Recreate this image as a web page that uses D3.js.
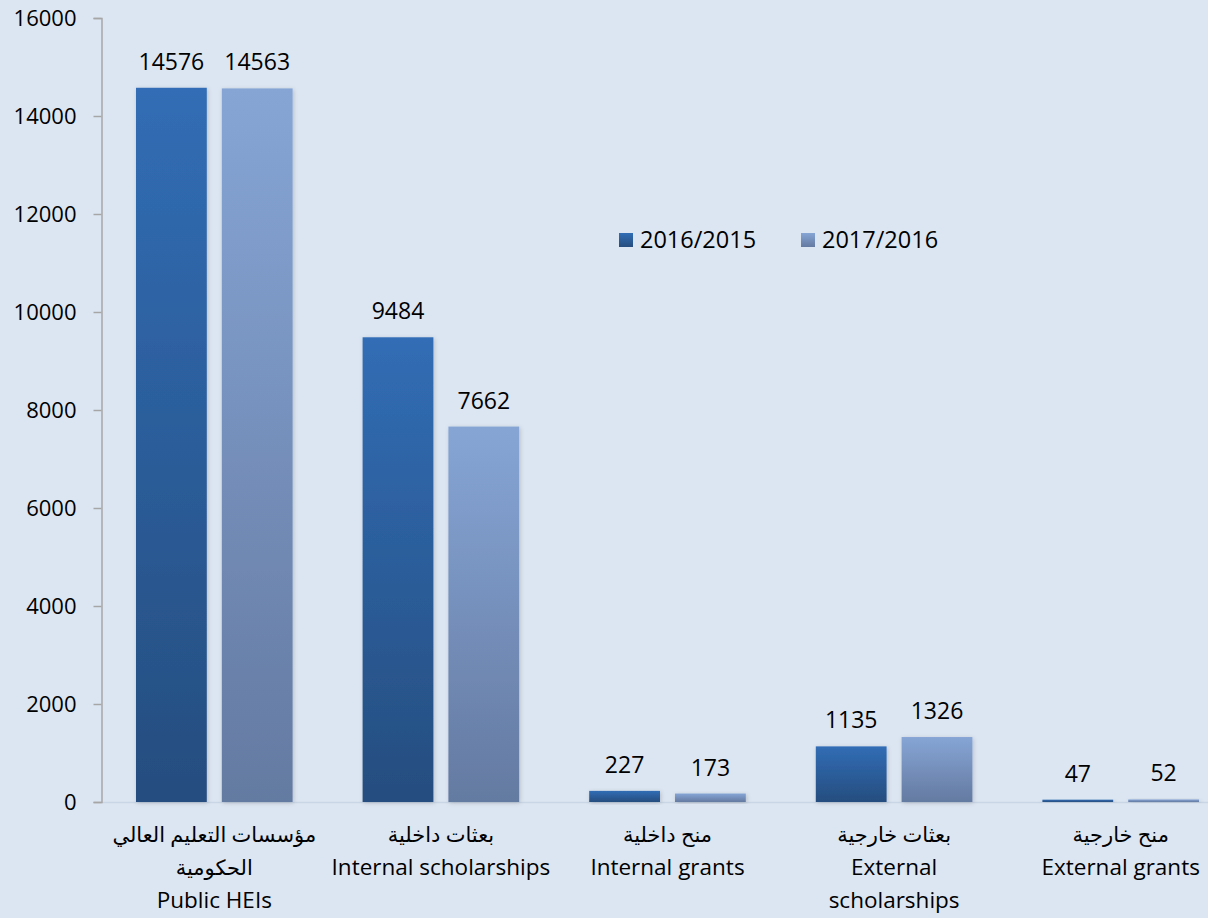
<!DOCTYPE html>
<html>
<head>
<meta charset="utf-8">
<script src="https://cdn.jsdelivr.net/npm/d3@7"></script>
<style>
  body { margin: 0; background: #dce6f2; }
  svg { display: block; }
  text { font-family: "Open Sans", "Liberation Sans", sans-serif; fill: #000; }
  .ar { font-family: "Liberation Serif", "DejaVu Serif", "DejaVu Sans", serif; }
</style>
</head>
<body>
<script>
// data
var categories = ["Public HEIs", "Internal scholarships", "Internal grants", "External scholarships", "External grants"];
var labelLines = [
  ["مؤسسات التعليم العالي", "الحكومية", "Public HEIs"],
  ["بعثات داخلية", "Internal scholarships"],
  ["منح داخلية", "Internal grants"],
  ["بعثات خارجية", "External", "scholarships"],
  ["منح خارجية", "External grants"]
];
var seriesNames = ["2016/2015", "2017/2016"];
var values2016 = [14576, 9484, 227, 1135, 47];
var values2017 = [14563, 7662, 173, 1326, 52];
var yTicks = [0, 2000, 4000, 6000, 8000, 10000, 12000, 14000, 16000];

var width = 1208, height = 918;
var svg = d3.select("body").append("svg")
    .attr("width", width)
    .attr("height", height);

var defs = svg.append("defs");
var grads = [["g0", "#316db5", "#264d7f"], ["g1", "#86a5d5", "#647aa1"]];
grads.forEach(function (g) {
  var lg = defs.append("linearGradient").attr("id", g[0])
      .attr("x1", 0).attr("y1", 0).attr("x2", 0).attr("y2", 1);
  lg.append("stop").attr("offset", "0%").attr("stop-color", g[1]);
  lg.append("stop").attr("offset", "100%").attr("stop-color", g[2]);
});
var f = defs.append("filter").attr("id", "shadow")
    .attr("x", "-20%").attr("y", "-20%").attr("width", "140%").attr("height", "140%");
f.append("feDropShadow").attr("dx", 1).attr("dy", 1).attr("stdDeviation", 2)
    .attr("flood-color", "#000").attr("flood-opacity", 0.18);

var y = d3.scaleLinear().domain([0, 16000]).range([802, 18]);
var x0 = d3.scaleBand().domain(categories).range([101, 1234]).paddingInner(0).paddingOuter(0);
var x1 = d3.scaleBand().domain([0, 1]).range([35, x0.bandwidth() - 35]).paddingInner(0.175);

// baseline
svg.append("line")
    .attr("x1", 101).attr("x2", width)
    .attr("y1", y(0) + 0.5).attr("y2", y(0) + 0.5)
    .attr("stroke", "#c9d6e6").attr("stroke-width", 1.5);

// y axis
var yAxis = svg.append("g")
    .attr("transform", "translate(101.5,0)")
    .call(d3.axisLeft(y).tickValues(yTicks).tickSize(8).tickPadding(17).tickFormat(d3.format("d")));
yAxis.select(".domain").attr("stroke", "#a6a6a6").attr("stroke-width", 1.5);
yAxis.selectAll(".tick line").attr("stroke", "#a6a6a6").attr("stroke-width", 1.5);
yAxis.selectAll("text").style("font-size", "22px").attr("fill", "#000")
    .style("font-family", "'Open Sans', 'Liberation Sans', sans-serif");

var groups = svg.append("g").selectAll("g")
    .data(categories)
    .enter().append("g")
    .attr("transform", function (d) { return "translate(" + x0(d) + ",0)"; });

[values2016, values2017].forEach(function (vals, s) {
  groups.append("rect")
      .attr("x", x1(s))
      .attr("width", x1.bandwidth())
      .attr("y", function (d, i) { return y(vals[i]); })
      .attr("height", function (d, i) { return y(0) - y(vals[i]); })
      .attr("fill", "url(#g" + s + ")")
      .attr("filter", "url(#shadow)");
  groups.append("text")
      .attr("x", x1(s) + x1.bandwidth() / 2)
      .attr("y", function (d, i) { return y(vals[i]) - 18; })
      .attr("text-anchor", "middle")
      .style("font-size", "23px")
      .text(function (d, i) { return vals[i]; });
});

// category labels
groups.each(function (d, i) {
  var g = d3.select(this);
  var cx = x0.bandwidth() / 2;
  labelLines[i].forEach(function (line, j) {
    var isAr = /[\u0600-\u06FF]/.test(line);
    g.append("text")
        .attr("class", isAr ? "ar" : null)
        .attr("x", cx)
        .attr("y", 842 + j * 33)
        .attr("text-anchor", "middle")
        .style("font-size", isAr ? "21px" : "22.5px")
        .text(line);
  });
});

// legend
var legend = svg.append("g").attr("transform", "translate(619,233)");
seriesNames.forEach(function (name, s) {
  var lg = legend.append("g").attr("transform", "translate(" + (s * 182) + ",0)");
  lg.append("rect").attr("width", 14).attr("height", 14).attr("fill", "url(#g" + s + ")");
  lg.append("text").attr("x", 21).attr("y", 15).style("font-size", "23.5px").text(name);
});
</script>
</body>
</html>
